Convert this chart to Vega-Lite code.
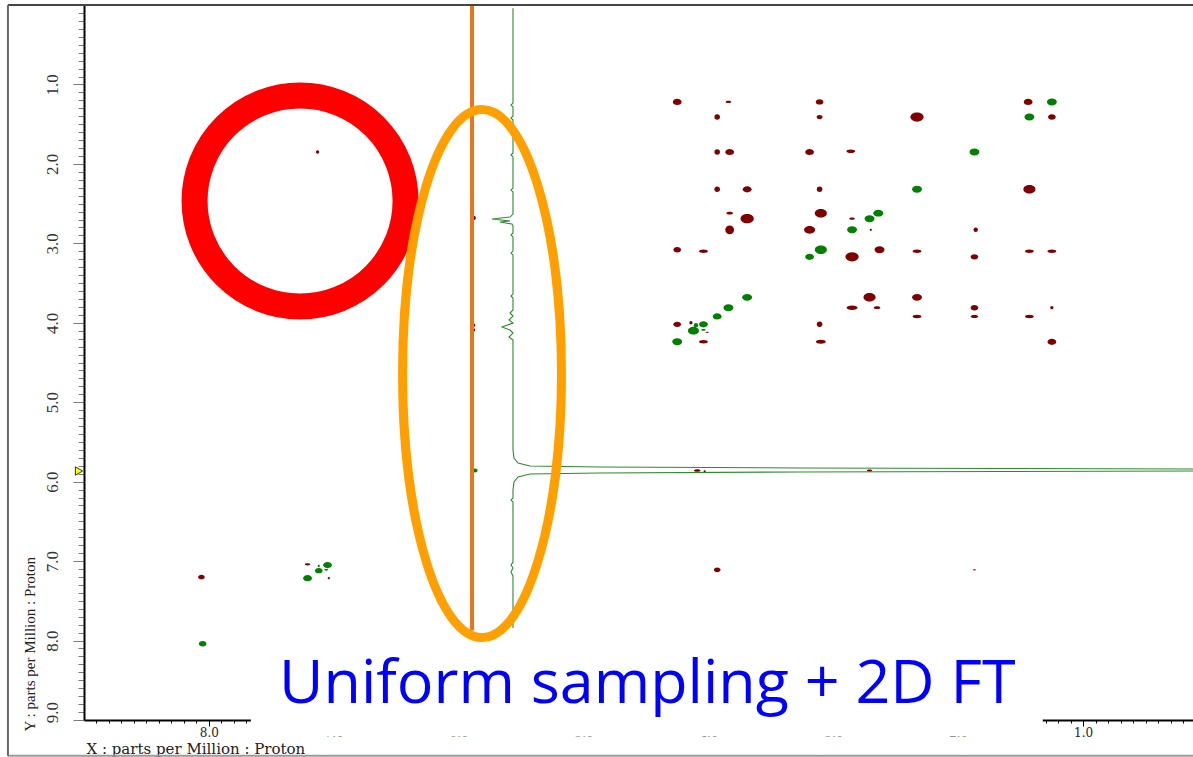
{
  "$schema": "https://vega.github.io/schema/vega-lite/v6.json",
  "autosize": {"type": "none"},
  "width": 1109,
  "height": 715,
  "padding": {"left": 84, "top": 5, "right": 0, "bottom": 37},
  "background": "white",
  "config": {"view": {"stroke": null}},
  "datasets": {
    "peaks": [
      {"f2": 4.25, "f1": 1.22, "volume": 64, "phase": "neg", "form": "round"},
      {"f2": 3.84, "f1": 1.22, "volume": 25, "phase": "neg", "form": "flat"},
      {"f2": 3.11, "f1": 1.22, "volume": 49, "phase": "neg", "form": "round"},
      {"f2": 1.44, "f1": 1.22, "volume": 64, "phase": "neg", "form": "round"},
      {"f2": 1.25, "f1": 1.22, "volume": 81, "phase": "pos", "form": "round"},
      {"f2": 3.93, "f1": 1.41, "volume": 25, "phase": "neg", "form": "dot"},
      {"f2": 3.11, "f1": 1.41, "volume": 30, "phase": "neg", "form": "round"},
      {"f2": 2.33, "f1": 1.41, "volume": 144, "phase": "neg", "form": "round"},
      {"f2": 1.43, "f1": 1.41, "volume": 81, "phase": "pos", "form": "round"},
      {"f2": 1.25, "f1": 1.41, "volume": 49, "phase": "neg", "form": "round"},
      {"f2": 7.13, "f1": 1.85, "volume": 9, "phase": "neg", "form": "dot"},
      {"f2": 3.93, "f1": 1.85, "volume": 25, "phase": "neg", "form": "dot"},
      {"f2": 3.83, "f1": 1.85, "volume": 64, "phase": "neg", "form": "round"},
      {"f2": 3.19, "f1": 1.85, "volume": 64, "phase": "neg", "form": "round"},
      {"f2": 2.86, "f1": 1.84, "volume": 64, "phase": "neg", "form": "flat"},
      {"f2": 1.87, "f1": 1.85, "volume": 81, "phase": "pos", "form": "round"},
      {"f2": 3.93, "f1": 2.32, "volume": 25, "phase": "neg", "form": "dot"},
      {"f2": 3.69, "f1": 2.32, "volume": 64, "phase": "neg", "form": "round"},
      {"f2": 3.11, "f1": 2.32, "volume": 25, "phase": "neg", "form": "dot"},
      {"f2": 2.33, "f1": 2.32, "volume": 81, "phase": "pos", "form": "round"},
      {"f2": 1.43, "f1": 2.32, "volume": 121, "phase": "neg", "form": "round"},
      {"f2": 3.83, "f1": 2.62, "volume": 36, "phase": "neg", "form": "flat"},
      {"f2": 3.10, "f1": 2.62, "volume": 121, "phase": "neg", "form": "round"},
      {"f2": 2.64, "f1": 2.62, "volume": 81, "phase": "pos", "form": "round"},
      {"f2": 3.69, "f1": 2.69, "volume": 144, "phase": "neg", "form": "round"},
      {"f2": 2.85, "f1": 2.69, "volume": 25, "phase": "neg", "form": "flat"},
      {"f2": 2.71, "f1": 2.69, "volume": 81, "phase": "pos", "form": "round"},
      {"f2": 5.88, "f1": 2.68, "volume": 16, "phase": "neg", "form": "dot"},
      {"f2": 3.83, "f1": 2.83, "volume": 64, "phase": "neg", "form": "dot"},
      {"f2": 3.19, "f1": 2.83, "volume": 100, "phase": "neg", "form": "round"},
      {"f2": 2.85, "f1": 2.83, "volume": 81, "phase": "pos", "form": "round"},
      {"f2": 2.70, "f1": 2.83, "volume": 4, "phase": "neg", "form": "dot"},
      {"f2": 1.86, "f1": 2.83, "volume": 16, "phase": "neg", "form": "dot"},
      {"f2": 4.25, "f1": 3.08, "volume": 49, "phase": "neg", "form": "round"},
      {"f2": 4.04, "f1": 3.10, "volume": 64, "phase": "neg", "form": "flat"},
      {"f2": 3.10, "f1": 3.08, "volume": 121, "phase": "pos", "form": "round"},
      {"f2": 3.19, "f1": 3.17, "volume": 64, "phase": "pos", "form": "round"},
      {"f2": 2.85, "f1": 3.17, "volume": 144, "phase": "neg", "form": "round"},
      {"f2": 2.63, "f1": 3.08, "volume": 81, "phase": "neg", "form": "round"},
      {"f2": 2.33, "f1": 3.10, "volume": 64, "phase": "neg", "form": "flat"},
      {"f2": 1.87, "f1": 3.17, "volume": 49, "phase": "neg", "form": "round"},
      {"f2": 1.43, "f1": 3.10, "volume": 64, "phase": "neg", "form": "flat"},
      {"f2": 1.25, "f1": 3.10, "volume": 64, "phase": "neg", "form": "flat"},
      {"f2": 3.69, "f1": 3.68, "volume": 81, "phase": "pos", "form": "round"},
      {"f2": 2.71, "f1": 3.68, "volume": 121, "phase": "neg", "form": "round"},
      {"f2": 2.33, "f1": 3.68, "volume": 81, "phase": "neg", "form": "round"},
      {"f2": 3.84, "f1": 3.81, "volume": 81, "phase": "pos", "form": "round"},
      {"f2": 2.85, "f1": 3.81, "volume": 100, "phase": "neg", "form": "flat"},
      {"f2": 2.65, "f1": 3.81, "volume": 36, "phase": "neg", "form": "flat"},
      {"f2": 1.87, "f1": 3.81, "volume": 49, "phase": "neg", "form": "round"},
      {"f2": 1.25, "f1": 3.81, "volume": 9, "phase": "neg", "form": "dot"},
      {"f2": 3.93, "f1": 3.92, "volume": 64, "phase": "pos", "form": "round"},
      {"f2": 2.33, "f1": 3.92, "volume": 64, "phase": "neg", "form": "flat"},
      {"f2": 1.87, "f1": 3.92, "volume": 49, "phase": "neg", "form": "flat"},
      {"f2": 1.43, "f1": 3.92, "volume": 64, "phase": "neg", "form": "flat"},
      {"f2": 4.25, "f1": 4.02, "volume": 49, "phase": "neg", "form": "round"},
      {"f2": 4.14, "f1": 4.00, "volume": 9, "phase": "neg", "form": "dot"},
      {"f2": 4.10, "f1": 4.03, "volume": 16, "phase": "pos", "form": "dot"},
      {"f2": 4.04, "f1": 4.02, "volume": 64, "phase": "pos", "form": "round"},
      {"f2": 3.11, "f1": 4.02, "volume": 25, "phase": "neg", "form": "dot"},
      {"f2": 5.88, "f1": 4.03, "volume": 9, "phase": "neg", "form": "dot"},
      {"f2": 5.88, "f1": 4.09, "volume": 9, "phase": "neg", "form": "dot"},
      {"f2": 4.12, "f1": 4.10, "volume": 100, "phase": "pos", "form": "round"},
      {"f2": 4.04, "f1": 4.09, "volume": 16, "phase": "pos", "form": "flat"},
      {"f2": 4.01, "f1": 4.12, "volume": 9, "phase": "neg", "form": "flat"},
      {"f2": 4.25, "f1": 4.24, "volume": 81, "phase": "pos", "form": "round"},
      {"f2": 4.04, "f1": 4.24, "volume": 64, "phase": "neg", "form": "flat"},
      {"f2": 3.10, "f1": 4.24, "volume": 81, "phase": "neg", "form": "flat"},
      {"f2": 1.25, "f1": 4.24, "volume": 64, "phase": "neg", "form": "round"},
      {"f2": 5.87, "f1": 5.86, "volume": 25, "phase": "pos", "form": "round"},
      {"f2": 4.09, "f1": 5.86, "volume": 36, "phase": "neg", "form": "flat"},
      {"f2": 4.03, "f1": 5.87, "volume": 4, "phase": "neg", "form": "dot"},
      {"f2": 2.71, "f1": 5.86, "volume": 25, "phase": "neg", "form": "flat"},
      {"f2": 3.93, "f1": 7.11, "volume": 36, "phase": "neg", "form": "round"},
      {"f2": 1.87, "f1": 7.11, "volume": 9, "phase": "neg", "form": "flat"},
      {"f2": 8.06, "f1": 7.20, "volume": 36, "phase": "neg", "form": "round"},
      {"f2": 8.05, "f1": 8.04, "volume": 49, "phase": "pos", "form": "round"},
      {"f2": 7.21, "f1": 7.04, "volume": 25, "phase": "neg", "form": "flat"},
      {"f2": 7.05, "f1": 7.05, "volume": 64, "phase": "pos", "form": "round"},
      {"f2": 7.12, "f1": 7.12, "volume": 49, "phase": "pos", "form": "round"},
      {"f2": 7.21, "f1": 7.215, "volume": 64, "phase": "pos", "form": "round"},
      {"f2": 7.04, "f1": 7.215, "volume": 4, "phase": "neg", "form": "dot"},
      {"f2": 7.12, "f1": 7.06, "volume": 4, "phase": "pos", "form": "dot"},
      {"f2": 7.06, "f1": 7.11, "volume": 16, "phase": "pos", "form": "flat"}
    ],
    "projection": [
      {"i": 1, "f2": 5.565, "f1": 0.04},
      {"i": 2, "f2": 5.565, "f1": 1.234},
      {"i": 3, "f2": 5.581, "f1": 1.259},
      {"i": 4, "f2": 5.565, "f1": 1.284},
      {"i": 5, "f2": 5.565, "f1": 1.397},
      {"i": 6, "f2": 5.581, "f1": 1.422},
      {"i": 7, "f2": 5.565, "f1": 1.448},
      {"i": 8, "f2": 5.565, "f1": 1.863},
      {"i": 9, "f2": 5.581, "f1": 1.888},
      {"i": 10, "f2": 5.565, "f1": 1.913},
      {"i": 11, "f2": 5.565, "f1": 2.304},
      {"i": 12, "f2": 5.581, "f1": 2.329},
      {"i": 13, "f2": 5.565, "f1": 2.354},
      {"i": 14, "f2": 5.565, "f1": 2.631},
      {"i": 15, "f2": 5.589, "f1": 2.669},
      {"i": 16, "f2": 5.733, "f1": 2.694},
      {"i": 17, "f2": 5.589, "f1": 2.719},
      {"i": 18, "f2": 5.669, "f1": 2.732},
      {"i": 19, "f2": 5.573, "f1": 2.757},
      {"i": 20, "f2": 5.565, "f1": 2.782},
      {"i": 21, "f2": 5.565, "f1": 2.870},
      {"i": 22, "f2": 5.581, "f1": 2.895},
      {"i": 23, "f2": 5.565, "f1": 2.920},
      {"i": 24, "f2": 5.565, "f1": 3.097},
      {"i": 25, "f2": 5.581, "f1": 3.122},
      {"i": 26, "f2": 5.565, "f1": 3.147},
      {"i": 27, "f2": 5.565, "f1": 3.638},
      {"i": 28, "f2": 5.581, "f1": 3.663},
      {"i": 29, "f2": 5.565, "f1": 3.688},
      {"i": 30, "f2": 5.565, "f1": 3.839},
      {"i": 31, "f2": 5.589, "f1": 3.877},
      {"i": 32, "f2": 5.565, "f1": 3.915},
      {"i": 33, "f2": 5.597, "f1": 3.965},
      {"i": 34, "f2": 5.565, "f1": 4.003},
      {"i": 35, "f2": 5.653, "f1": 4.053},
      {"i": 36, "f2": 5.589, "f1": 4.091},
      {"i": 37, "f2": 5.565, "f1": 4.129},
      {"i": 38, "f2": 5.597, "f1": 4.179},
      {"i": 39, "f2": 5.565, "f1": 4.217},
      {"i": 40, "f2": 5.565, "f1": 5.602},
      {"i": 41, "f2": 5.557, "f1": 5.702},
      {"i": 42, "f2": 5.525, "f1": 5.765},
      {"i": 43, "f2": 5.429, "f1": 5.803},
      {"i": 44, "f2": 4.868, "f1": 5.815},
      {"i": 45, "f2": 3.267, "f1": 5.828},
      {"i": 46, "f2": 1.665, "f1": 5.834},
      {"i": 47, "f2": 0.12, "f1": 5.840},
      {"i": 48, "f2": -0.6, "f1": 5.853},
      {"i": 49, "f2": 0.12, "f1": 5.866},
      {"i": 50, "f2": 1.665, "f1": 5.872},
      {"i": 51, "f2": 3.267, "f1": 5.878},
      {"i": 52, "f2": 4.868, "f1": 5.891},
      {"i": 53, "f2": 5.429, "f1": 5.903},
      {"i": 54, "f2": 5.525, "f1": 5.941},
      {"i": 55, "f2": 5.557, "f1": 6.004},
      {"i": 56, "f2": 5.565, "f1": 6.105},
      {"i": 57, "f2": 5.565, "f1": 6.206},
      {"i": 58, "f2": 5.581, "f1": 6.231},
      {"i": 59, "f2": 5.565, "f1": 6.256},
      {"i": 60, "f2": 5.565, "f1": 7.012},
      {"i": 61, "f2": 5.581, "f1": 7.049},
      {"i": 62, "f2": 5.565, "f1": 7.087},
      {"i": 63, "f2": 5.581, "f1": 7.137},
      {"i": 64, "f2": 5.565, "f1": 7.188},
      {"i": 65, "f2": 5.565, "f1": 7.842}
    ]
  },
  "encoding": {
    "x": {
      "field": "f2",
      "type": "quantitative",
      "scale": {"domain": [0.12, 9], "reverse": true, "nice": false, "zero": false},
      "axis": {
        "orient": "bottom",
        "values": [0.2,0.3,0.4,0.5,0.6,0.7,0.8,0.9,1,1.1,1.2,1.3,1.4,1.5,1.6,1.7,1.8,1.9,2,2.1,2.2,2.3,2.4,2.5,2.6,2.7,2.8,2.9,3,3.1,3.2,3.3,3.4,3.5,3.6,3.7,3.8,3.9,4,4.1,4.2,4.3,4.4,4.5,4.6,4.7,4.8,4.9,5,5.1,5.2,5.3,5.4,5.5,5.6,5.7,5.8,5.9,6,6.1,6.2,6.3,6.4,6.5,6.6,6.7,6.8,6.9,7,7.1,7.2,7.3,7.4,7.5,7.6,7.7,7.8,7.9,8,8.1,8.2,8.3,8.4,8.5,8.6,8.7,8.8,8.9],
        "labelExpr": "abs(datum.value - round(datum.value)) < 0.01 ? format(datum.value, '.1f') : ''",
        "labelOverlap": false,
        "labelBound": false,
        "labelFlush": false,
        "labelFont": "DejaVu Serif",
        "labelFontSize": 12,
        "labelColor": "#222222",
        "labelPadding": 1,
        "grid": false,
        "domainColor": "#000000",
        "domainWidth": 2,
        "tickColor": "#000000",
        "tickWidth": 1,
        "tickSize": {"condition": {"test": "abs(datum.value - round(datum.value)) < 0.01", "value": 6}, "value": 3},
        "title": "X : parts per Million : Proton",
        "titleFont": "DejaVu Serif",
        "titleFontSize": 15,
        "titleFontWeight": "normal",
        "titleColor": "#222222",
        "titleX": 2,
        "titleY": 33,
        "titleAlign": "left",
        "titleBaseline": "alphabetic"
      }
    },
    "y": {
      "field": "f1",
      "type": "quantitative",
      "scale": {"domain": [0, 9], "reverse": true, "nice": false, "zero": false},
      "axis": {
        "orient": "left",
        "values": [0.1,0.2,0.3,0.4,0.5,0.6,0.7,0.8,0.9,1,1.1,1.2,1.3,1.4,1.5,1.6,1.7,1.8,1.9,2,2.1,2.2,2.3,2.4,2.5,2.6,2.7,2.8,2.9,3,3.1,3.2,3.3,3.4,3.5,3.6,3.7,3.8,3.9,4,4.1,4.2,4.3,4.4,4.5,4.6,4.7,4.8,4.9,5,5.1,5.2,5.3,5.4,5.5,5.6,5.7,5.8,5.9,6,6.1,6.2,6.3,6.4,6.5,6.6,6.7,6.8,6.9,7,7.1,7.2,7.3,7.4,7.5,7.6,7.7,7.8,7.9,8,8.1,8.2,8.3,8.4,8.5,8.6,8.7,8.8,8.9,9],
        "labelExpr": "abs(datum.value - round(datum.value)) < 0.01 ? format(datum.value, '.1f') : ''",
        "labelOverlap": false,
        "labelBound": false,
        "labelFlush": false,
        "labelAngle": 270,
        "labelFont": "Liberation Serif",
        "labelFontSize": 17,
        "labelColor": "#333333",
        "labelPadding": 12,
        "labelOffset": {"condition": {"test": "datum.value > 8.95", "value": -8}, "value": 0},
        "grid": false,
        "domainColor": "#000000",
        "domainWidth": 2,
        "tickColor": "#7a7a7a",
        "tickWidth": 1,
        "tickSize": {"condition": {"test": "abs(datum.value - round(datum.value)) < 0.01", "value": 11}, "value": 6},
        "title": "Y : parts per Million : Proton",
        "titleFont": "Liberation Serif",
        "titleFontSize": 15,
        "titleFontWeight": "normal",
        "titleColor": "#222222",
        "titleAngle": 270,
        "titleX": -55,
        "titleY": 726,
        "titleAlign": "left",
        "titleBaseline": "middle"
      }
    }
  },
  "layer": [
    {
      "data": {"name": "peaks"},
      "mark": {"type": "point", "filled": true, "opacity": 1, "strokeWidth": 0},
      "encoding": {
        "color": {
          "field": "phase",
          "type": "nominal",
          "scale": {"domain": ["neg", "pos"], "range": ["#7f0000", "#007f00"]},
          "legend": null
        },
        "size": {
          "field": "volume",
          "type": "quantitative",
          "scale": {"type": "linear", "domain": [0, 144], "range": [0, 175]},
          "legend": null
        },
        "shape": {
          "field": "form",
          "type": "nominal",
          "scale": {
            "domain": ["round", "flat", "dot"],
            "range": [
              "M 1 0 C 1 0.387 0.552 0.7 0 0.7 C -0.552 0.7 -1 0.387 -1 0 C -1 -0.387 -0.552 -0.7 0 -0.7 C 0.552 -0.7 1 -0.387 1 0 Z",
              "M 1 0 C 1 0.221 0.552 0.4 0 0.4 C -0.552 0.4 -1 0.221 -1 0 C -1 -0.221 -0.552 -0.4 0 -0.4 C 0.552 -0.4 1 -0.221 1 0 Z",
              "circle"
            ]
          },
          "legend": null
        }
      }
    },
    {
      "data": {"name": "projection"},
      "mark": {"type": "line", "color": "#2c8c2c", "strokeWidth": 1.1, "clip": false},
      "encoding": {"order": {"field": "i", "type": "quantitative"}}
    },
    {
      "data": {"values": [{"f2": 5.893, "f1": 0, "f1_end": 9}]},
      "mark": {"type": "rule", "color": "#e8771a", "strokeWidth": 4},
      "encoding": {"y2": {"field": "f1_end"}}
    },
    {
      "data": {"values": [{"f2": 7.664, "f2_end": 1.323, "f1": 7.874, "f1_end": 9.208}]},
      "mark": {"type": "rect", "fill": "white", "stroke": null, "clip": false},
      "encoding": {"x2": {"field": "f2_end"}, "y2": {"field": "f1_end"}}
    },
    {
      "data": {"values": [{"f2": 4.49, "f1": 8.786, "caption": "Uniform sampling + 2D FT"}]},
      "mark": {"type": "text", "font": "Open Sans", "fontSize": 61, "color": "#0000ff", "align": "center", "baseline": "alphabetic"},
      "encoding": {"text": {"field": "caption"}}
    },
    {
      "data": {"values": [{"f2": 7.27, "f1": 2.467}]},
      "mark": {"type": "point", "shape": "circle", "size": 44521, "filled": false, "color": "#ff0000", "strokeWidth": 26, "opacity": 1}
    },
    {
      "data": {"values": [{"f2": 5.813, "f1": 4.639}]},
      "mark": {
        "type": "point",
        "shape": "M 0.301 0 C 0.301 0.5523 0.1663 1 0 1 C -0.1663 1 -0.301 0.5523 -0.301 0 C -0.301 -0.5523 -0.1663 -1 0 -1 C 0.1663 -1 0.301 -0.5523 0.301 0 Z",
        "size": 278784,
        "filled": false,
        "color": "#ffa000",
        "strokeWidth": 9,
        "opacity": 1
      }
    },
    {
      "data": {"values": [{"f2": 9.609, "f2_end": -0.2, "f1": 0}]},
      "mark": {"type": "rule", "color": "#454545", "strokeWidth": 2, "clip": false},
      "encoding": {"x2": {"field": "f2_end"}}
    },
    {
      "data": {"values": [{"f2": 9.609, "f2_end": -0.2, "f1": 9.45}]},
      "mark": {"type": "rule", "color": "#9a9a9a", "strokeWidth": 2, "clip": false},
      "encoding": {"x2": {"field": "f2_end"}}
    },
    {
      "data": {"values": [{"f2": 9.609, "f1": 0, "f1_end": 9.45}]},
      "mark": {"type": "rule", "color": "#666666", "strokeWidth": 2, "clip": false},
      "encoding": {"y2": {"field": "f1_end"}}
    },
    {
      "data": {"values": [{"f2": 9.04, "f1": 5.866}]},
      "mark": {"type": "point", "shape": "triangle-right", "size": 70, "filled": true, "fill": "#ffff00", "stroke": "#333333", "strokeWidth": 1, "opacity": 1}
    }
  ]
}
